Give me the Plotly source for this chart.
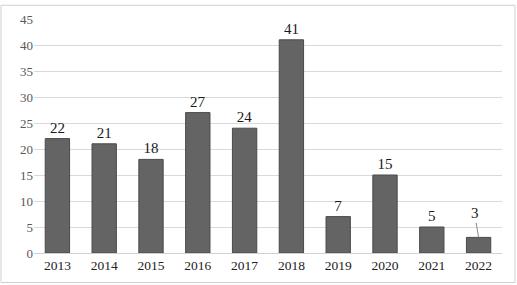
import plotly.graph_objects as go

years = ["2013", "2014", "2015", "2016", "2017", "2018", "2019", "2020", "2021", "2022"]
counts = [22, 21, 18, 27, 24, 41, 7, 15, 5, 3]
y_ticks = [0, 5, 10, 15, 20, 25, 30, 35, 40, 45]

W, H = 517, 285
ml, mr, mt, mb = 34, 15, 15, 32
pw, ph = W - ml - mr, H - mt - mb
FONT = "Liberation Serif, Times New Roman, serif"

fig = go.Figure()
fig.add_trace(go.Bar(
    x=years, y=counts,
    marker=dict(color="#646464", line=dict(color="#4a4a4a", width=1)),
    text=[str(c) if c != 3 else "" for c in counts],
    textposition="outside",
    textfont=dict(family=FONT, size=15, color="#1a1a1a"),
    cliponaxis=False,
))

# leader-line label for the small last bar
fig.add_annotation(x=len(years) - 1, y=counts[-1], text=str(counts[-1]),
                   showarrow=True, arrowhead=0, arrowwidth=1, arrowcolor="#888888",
                   ax=-4, ay=-24, xref="x", yref="y",
                   font=dict(family=FONT, size=15, color="#1a1a1a"))

fig.update_layout(
    width=W, height=H,
    margin=dict(l=ml, r=mr, t=mt, b=mb),
    paper_bgcolor="white", plot_bgcolor="white",
    showlegend=False,
    bargap=0.48,
    xaxis=dict(type="category", showgrid=False, showline=True, linecolor="#d0d0d0", linewidth=1,
               ticks="", tickfont=dict(family=FONT, size=13.5, color="#222222")),
    yaxis=dict(range=[0, 45], tickvals=y_ticks, showgrid=True, gridcolor="#d9d9d9", gridwidth=1,
               zeroline=False, showline=False, ticks="",
               tickfont=dict(family=FONT, size=13, color="#595959")),
)

# outer chart border
fig.add_shape(type="rect", xref="paper", yref="paper",
              x0=(1 - ml) / pw, x1=(W - 2 - ml) / pw,
              y0=(H - mb - (H - 2)) / ph, y1=(H - mb - 1) / ph,
              line=dict(color="#d0d0d0", width=1), fillcolor="rgba(0,0,0,0)", layer="below")

fig.write_html("out.html", config={"displayModeBar": False},
               post_script="document.body.style.margin='0';")
